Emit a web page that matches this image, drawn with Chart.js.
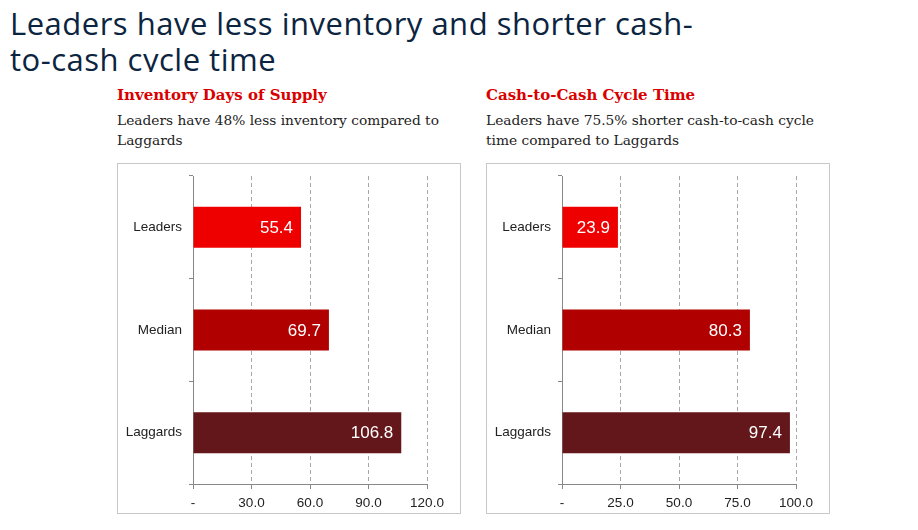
<!DOCTYPE html>
<html>
<head>
<meta charset="utf-8">
<script src="https://cdn.jsdelivr.net/npm/chart.js@4"></script>
<style>
  body { margin: 0; background: #fff; width: 918px; height: 530px; overflow: hidden; position: relative; }
  #title { position: absolute; left: 10px; top: 5px; width: 900px; height: 67px; overflow: hidden;
    font-family: "Open Sans", "DejaVu Sans", sans-serif; letter-spacing: 0.5px;
    font-size: 31px; line-height: 36px; color: #0b2440; white-space: nowrap; }
  .head { position: absolute; font-family: "DejaVu Serif", serif; font-weight: bold; font-size: 15px; color: #d90000; }
  .desc { position: absolute; font-family: "DejaVu Serif", serif; font-size: 13.75px; line-height: 20px; color: #222; }
  .box { position: absolute; top: 163px; width: 342px; height: 349px; border: 1px solid #c8c8c8; }
  canvas { display: block; }
</style>
</head>
<body>
<div id="title">Leaders have less inventory and shorter cash-<br>to-cash cycle time</div>

<div class="head" style="left:117px; top:86px;">Inventory Days of Supply</div>
<div class="desc" style="left:117px; top:110px;">Leaders have 48% less inventory compared to<br>Laggards</div>
<div class="head" style="left:486px; top:86px;">Cash-to-Cash Cycle Time</div>
<div class="desc" style="left:486px; top:110px;">Leaders have 75.5% shorter cash-to-cash cycle<br>time compared to Laggards</div>

<div class="box" style="left:117px;"><canvas id="invChart"></canvas></div>
<div class="box" style="left:486px;"><canvas id="cashChart"></canvas></div>

<script>
// data
const groups = ['Leaders', 'Median', 'Laggards'];
const inventoryDays = [55.4, 69.7, 106.8];
const cashCycleDays = [23.9, 80.3, 97.4];
const barColours = ['#ee0000', '#b00000', '#64171a'];
const inventoryAxis = { max: 120, step: 30 };
const cashAxis = { max: 100, step: 25 };

// writes the value in white just inside the end of each bar
const barValueLabels = {
    id: 'barValueLabels',
    afterDatasetsDraw(chart) {
        const ctx = chart.ctx;
        const meta = chart.getDatasetMeta(0);
        ctx.save();
        ctx.fillStyle = '#fff';
        ctx.font = '17px "Liberation Sans", Arial, sans-serif';
        ctx.textAlign = 'right';
        ctx.textBaseline = 'middle';
        meta.data.forEach(function(bar, i) {
            ctx.fillText(chart.data.datasets[0].data[i].toFixed(1), bar.x - 8, bar.y + 1);
        });
        ctx.restore();
    }
};

function makeChart(canvasId, values, axis) {
    new Chart(document.getElementById(canvasId), {
        type: 'bar',
        data: {
            labels: groups,
            datasets: [{
                data: values,
                backgroundColor: barColours,
                categoryPercentage: 1,
                barPercentage: 0.4
            }]
        },
        options: {
            indexAxis: 'y',
            responsive: false,
            animation: false,
            layout: { padding: { top: 12, right: 33, left: 0, bottom: 0 } },
            plugins: { legend: { display: false }, tooltip: { enabled: false } },
            scales: {
                x: {
                    min: 0,
                    max: axis.max,
                    afterFit: function(scale) { scale.height = 29; },
                    ticks: {
                        stepSize: axis.step,
                        color: '#222',
                        padding: 6,
                        font: { family: '"Liberation Sans", Arial, sans-serif', size: 13.5 },
                        callback: function(v) { return v === 0 ? '-' : v.toFixed(1); }
                    },
                    grid: {
                        color: function(c) { return c.index === 0 ? 'rgba(0,0,0,0)' : '#a8a8a8'; },
                        tickColor: '#888',
                        tickLength: 5,
                        tickBorderDash: []
                    },
                    border: { display: true, color: '#888', dash: [4, 3] }
                },
                y: {
                    afterFit: function(scale) {
                        scale.width = 75;
                        scale.paddingTop = 0;
                        scale.paddingBottom = 0;
                    },
                    ticks: {
                        color: '#222',
                        padding: 7,
                        font: { family: '"Liberation Sans", Arial, sans-serif', size: 13.5 }
                    },
                    grid: {
                        offset: true,
                        drawOnChartArea: false,
                        tickColor: '#888',
                        tickLength: 4
                    },
                    border: { display: true, color: '#888' }
                }
            }
        },
        plugins: [barValueLabels]
    });
}

document.getElementById('invChart').width = 342;
document.getElementById('invChart').height = 349;
document.getElementById('cashChart').width = 342;
document.getElementById('cashChart').height = 349;
makeChart('invChart', inventoryDays, inventoryAxis);
makeChart('cashChart', cashCycleDays, cashAxis);
</script>
</body>
</html>
